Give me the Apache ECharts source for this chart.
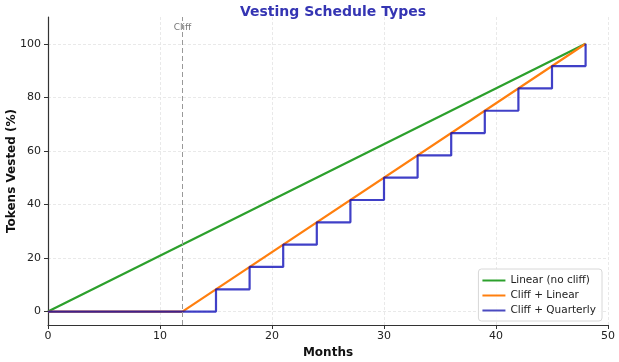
<!DOCTYPE html>
<html>
<head>
<meta charset="utf-8">
<script src="https://cdn.jsdelivr.net/npm/echarts@6/dist/echarts.min.js"></script>
<style>html,body{margin:0;padding:0;background:#fff;}#c{width:619px;height:362px;}</style>
</head>
<body>
<div id="c"></div>
<script>
var linearMonths = [0, 48];
var linearValues = [0, 100];
var cliffLinearMonths = [0, 12, 48];
var cliffLinearValues = [0, 0, 100];
var quarterlyMonths = [0, 12, 15, 18, 21, 24, 27, 30, 33, 36, 39, 42, 45, 48];
var quarterlyValues = [0, 0, 8.33, 16.67, 25, 33.33, 41.67, 50, 58.33, 66.67, 75, 83.33, 91.67, 100];
var yTicks = [0, 20, 40, 60, 80, 100];
var cliffMonth = 12;
var cliffLabelY = 106;
var seriesNames = ['Linear (no cliff)', 'Cliff + Linear', 'Cliff + Quarterly'];

function pairs(xs, ys) { return xs.map(function (x, i) { return [x, ys[i]]; }); }

var font = 'DejaVu Sans';
var chart = echarts.init(document.getElementById('c'), null, { renderer: 'canvas' });
chart.setOption({
  animation: false,
  backgroundColor: '#fff',
  title: {
    text: 'Vesting Schedule Types',
    left: 328, top: 0, textAlign: 'center',
    textStyle: { fontFamily: font, fontWeight: 'bold', fontSize: 14, color: '#3535b3' }
  },
  grid: { left: 48, right: 11, top: 17, bottom: 37, containLabel: false, outerBoundsMode: 'none' },
  legend: {
    orient: 'vertical', right: 17, bottom: 41,
    data: seriesNames,
    icon: 'rect', itemWidth: 23, itemHeight: 2, itemGap: 4,
    padding: [6, 6, 5, 4],
    borderColor: '#d8d8d8', borderWidth: 1, borderRadius: 3,
    backgroundColor: 'rgba(255,255,255,0.85)',
    textStyle: { fontFamily: font, fontSize: 10.5, color: '#222' }
  },
  xAxis: {
    type: 'value', min: 0, max: 50, interval: 10,
    name: 'Months', nameLocation: 'middle', nameGap: 22, nameMoveOverlap: false,
    nameTextStyle: { fontFamily: font, fontWeight: 'bold', fontSize: 12, color: '#111' },
    axisLine: { onZero: false, lineStyle: { color: '#333', width: 1.2 } },
    axisTick: { show: true, length: 4, lineStyle: { color: '#333' } },
    axisLabel: { fontFamily: font, fontSize: 11, color: '#222', margin: 6 },
    splitLine: { show: true, lineStyle: { color: '#e3e3e3', type: [3, 2], width: 0.8 } }
  },
  yAxis: {
    type: 'value', min: -5, max: 110,
    name: 'Tokens Vested (%)', nameLocation: 'middle', nameGap: 30, nameMoveOverlap: false,
    nameTextStyle: { fontFamily: font, fontWeight: 'bold', fontSize: 12, color: '#111' },
    axisLine: { onZero: false, lineStyle: { color: '#333', width: 1.2 } },
    axisTick: { show: true, length: 4, customValues: yTicks, lineStyle: { color: '#333' } },
    axisLabel: { fontFamily: font, fontSize: 11, color: '#222', margin: 7, customValues: yTicks },
    splitLine: { show: true, customValues: yTicks, lineStyle: { color: '#e3e3e3', type: [3, 2], width: 0.8 } }
  },
  series: [
    {
      name: seriesNames[0], type: 'line', data: pairs(linearMonths, linearValues),
      symbol: 'none', lineStyle: { color: '#2ca02c', width: 2.2 }, itemStyle: { color: '#2ca02c' },
      markLine: {
        silent: true, symbol: 'none', label: { show: false },
        lineStyle: { color: '#999', type: [5, 3], width: 1 },
        data: [{ xAxis: cliffMonth }]
      },
      markPoint: {
        silent: true, symbol: 'circle', symbolSize: 0,
        label: { show: true, formatter: 'Cliff', fontFamily: font, fontSize: 9, color: '#777', position: 'inside' },
        data: [{ coord: [cliffMonth, cliffLabelY] }]
      }
    },
    {
      name: seriesNames[1], type: 'line', data: pairs(cliffLinearMonths, cliffLinearValues),
      symbol: 'none', lineStyle: { color: '#ff7f0e', width: 2.2 }, itemStyle: { color: '#ff7f0e' }
    },
    {
      name: seriesNames[2], type: 'line', step: 'end', data: pairs(quarterlyMonths, quarterlyValues),
      symbol: 'none', lineStyle: { color: 'rgba(0,0,180,0.75)', width: 2.2 }, itemStyle: { color: '#4a4ac0' }
    }
  ]
});
</script>
</body>
</html>
